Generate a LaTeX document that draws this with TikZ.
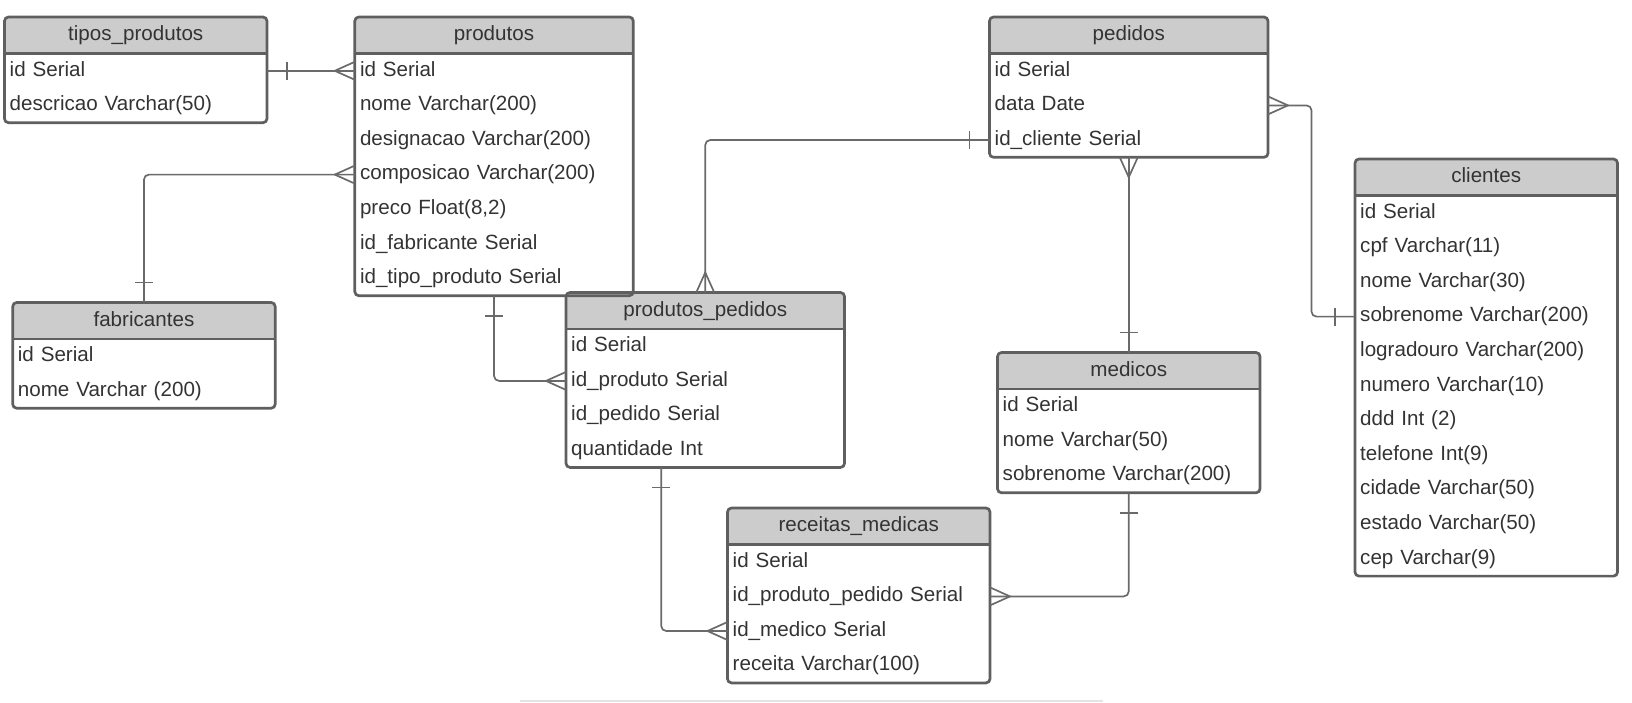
\documentclass[tikz,border=0pt]{standalone}
\usepackage{fontspec}
\setmainfont{Liberation Sans}
\usetikzlibrary{positioning,fit,decorations.markings}

\definecolor{headgray}{HTML}{CCCCCC}
\definecolor{framegray}{HTML}{5F5F5F}
\definecolor{linegray}{HTML}{6A6A6A}
\definecolor{txtgray}{HTML}{333333}
\definecolor{faintgray}{HTML}{E4E4E8}

\begin{document}
\begin{tikzpicture}[
    x=0.5pt, y=-0.5pt,
    every node/.style={font=\fontsize{10.3}{12}\selectfont, text=txtgray},
    head/.style={anchor=north west, fill=headgray, rounded corners=2pt, minimum width=#1, minimum height=18.25pt, inner sep=0pt, outer sep=0pt, text height=7.7pt, text depth=2.2pt},
    row/.style={text width=#1, minimum height=17.3pt, inner xsep=2.6pt, inner ysep=0pt, outer sep=0pt, text height=7.5pt, text depth=2.2pt, align=left},
    frame/.style={draw=framegray, line width=1.35pt, rounded corners=2pt, inner sep=0pt, outer sep=0pt},
    sepline/.style={draw=framegray, line width=1.35pt},
    rel/.style={draw=linegray, line width=0.85pt, rounded corners=2.5pt,
        postaction={decorate, decoration={markings,
            mark=at position 0 with {\draw[linegray, line width=0.85pt, sharp corners] (10pt,-4.5pt) -- (10pt,4.5pt);},
            mark=at position 1 with {\draw[linegray, line width=0.85pt, sharp corners] (0,4.5pt) -- (-10pt,0) -- (0,-4.5pt);}}}}
]
\useasboundingbox (0,0) rectangle (1632,702);

% tabelas
\node[head=131.25pt] (tipo0) at (4.5,17) {tipos\_produtos};
\foreach \f [count=\i, remember=\i as \j (initially 0)] in {id Serial, descricao Varchar(50)}
    \node[row=126.05pt] (tipo\i) [below=0pt of tipo\j] {\f};

\node[head=139.25pt] (prod0) at (354.8,17) {produtos};
\foreach \f [count=\i, remember=\i as \j (initially 0)] in {id Serial, nome Varchar(200), designacao Varchar(200), composicao Varchar(200), {preco Float(8,2)}, id\_fabricante Serial, id\_tipo\_produto Serial}
    \node[row=134.05pt] (prod\i) [below=0pt of prod\j] {\f};

\node[head=131.25pt] (fab0) at (12.7,302.5) {fabricantes};
\foreach \f [count=\i, remember=\i as \j (initially 0)] in {id Serial, nome Varchar (200)}
    \node[row=126.05pt] (fab\i) [below=0pt of fab\j] {\f};

\node[head=139.25pt] (pp0) at (566,292.5) {produtos\_pedidos};
\foreach \f [count=\i, remember=\i as \j (initially 0)] in {id Serial, id\_produto Serial, id\_pedido Serial, quantidade Int}
    \node[row=134.05pt] (pp\i) [below=0pt of pp\j] {\f};

\node[head=139.25pt] (ped0) at (989.5,17) {pedidos};
\foreach \f [count=\i, remember=\i as \j (initially 0)] in {id Serial, data Date, id\_cliente Serial}
    \node[row=134.05pt] (ped\i) [below=0pt of ped\j] {\f};

\node[head=131.25pt] (cli0) at (1355,159) {clientes};
\foreach \f [count=\i, remember=\i as \j (initially 0)] in {id Serial, cpf Varchar(11), nome Varchar(30), sobrenome Varchar(200), logradouro Varchar(200), numero Varchar(10), ddd Int (2), telefone Int(9), cidade Varchar(50), estado Varchar(50), cep Varchar(9)}
    \node[row=126.05pt] (cli\i) [below=0pt of cli\j] {\f};

\node[head=131.25pt] (med0) at (997.5,352.5) {medicos};
\foreach \f [count=\i, remember=\i as \j (initially 0)] in {id Serial, nome Varchar(50), sobrenome Varchar(200)}
    \node[row=126.05pt] (med\i) [below=0pt of med\j] {\f};

\node[head=131.25pt] (rec0) at (727.5,508) {receitas\_medicas};
\foreach \f [count=\i, remember=\i as \j (initially 0)] in {id Serial, id\_produto\_pedido Serial, id\_medico Serial, receita Varchar(100)}
    \node[row=126.05pt] (rec\i) [below=0pt of rec\j] {\f};

% molduras
\foreach \t/\n in {tipo/2, prod/7, fab/2, pp/4, ped/3, cli/11, med/3, rec/4} {
    \node[frame, fit=(\t0)(\t\n)] (\t) {};
    \draw[sepline] (\t0.south west) -- (\t0.south east);
}

% relacionamentos
\draw[rel] (tipo1.east) -- (prod1.west);
\draw[rel] (fab0.north) |- (prod4.west);
\draw[rel] (prod.south) |- (pp2.west);
\draw[rel] (ped3.west) -| (pp0.north);
\draw[rel] (med0.north) -- (med0.north |- ped.south);
\draw[rel] (cli4.west) -- ++(-43.5,0) |- (ped2.east);
\draw[rel] ([xshift=-22pt]pp.south) |- (rec3.west);
\draw[rel] (med.south) |- (rec2.east);

\draw[faintgray, line width=0.6pt] (520,701) -- (1103,701);
\end{tikzpicture}
\end{document}
